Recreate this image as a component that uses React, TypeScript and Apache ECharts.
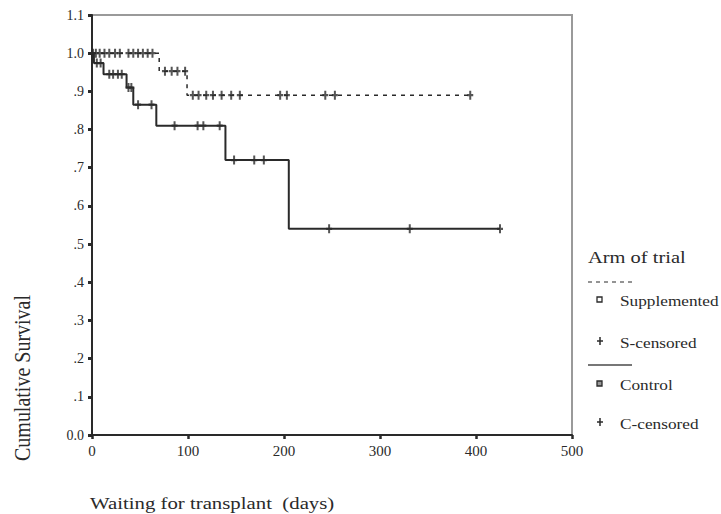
import React, { useEffect, useRef } from "react";
import * as echarts from "echarts";

// Kaplan-Meier step data (days, cumulative survival)
const suppTimes = [0, 70, 99, 394];
const suppSurv = [1.0, 0.953, 0.89, 0.89];
const ctrlTimes = [0, 2, 12, 36, 43, 67, 139, 205, 425];
const ctrlSurv = [1.0, 0.974, 0.945, 0.91, 0.865, 0.81, 0.72, 0.54, 0.54];

// Censored observations
const suppCensTimes = [1, 4, 8, 13, 18, 24, 29, 38, 43, 48, 53, 58, 63, 76, 83, 89, 97, 105, 111, 119, 126, 135, 145, 154, 196, 203, 243, 253, 394];
const suppCensSurv = [1, 1, 1, 1, 1, 1, 1, 1, 1, 1, 1, 1, 1, 0.953, 0.953, 0.953, 0.953, 0.89, 0.89, 0.89, 0.89, 0.89, 0.89, 0.89, 0.89, 0.89, 0.89, 0.89, 0.89];
const ctrlCensTimes = [5, 9, 18, 22, 27, 31, 38, 41, 48, 62, 86, 110, 116, 133, 148, 169, 179, 247, 331, 425];
const ctrlCensSurv = [0.974, 0.974, 0.945, 0.945, 0.945, 0.945, 0.91, 0.91, 0.865, 0.865, 0.81, 0.81, 0.81, 0.81, 0.72, 0.72, 0.72, 0.54, 0.54, 0.54];

const yTickLabels = ["0.0", ".1", ".2", ".3", ".4", ".5", ".6", ".7", ".8", ".9", "1.0", "1.1"];
const xTickLabels = ["0", "100", "200", "300", "400", "500"];

const FONT = "'Liberation Serif', 'DejaVu Serif', serif";
const INK = "#2a2a2a";
const PLUS = "path://M2,0h2v3h2v2h-2v3h-2v-3h-2v-2h2z";

const zip = (a: number[], b: number[]) => a.map((v, i) => [v, b[i]]);

export default function App() {
  const ref = useRef<HTMLDivElement>(null);
  useEffect(() => {
    if (!ref.current) return;
    const chart = echarts.init(ref.current, undefined, { renderer: "svg" });
    const legendText = (text: string, y: number, size = 15, sx = 1.15) => ({
      type: "text",
      x: 620,
      y,
      scaleX: sx,
      style: { text, fontFamily: FONT, fontSize: size, fill: INK, textVerticalAlign: "middle" },
    });
    const plus = (cx: number, cy: number) => ({
      type: "group",
      children: [
        { type: "line", shape: { x1: cx - 3, y1: cy, x2: cx + 3, y2: cy }, style: { stroke: INK, lineWidth: 1.5 } },
        { type: "line", shape: { x1: cx, y1: cy - 4, x2: cx, y2: cy + 4 }, style: { stroke: INK, lineWidth: 1.5 } },
      ],
    });
    chart.setOption({
      animation: false,
      backgroundColor: "#ffffff",
      grid: { left: 92, right: 149, top: 15, bottom: 79, show: true, borderColor: "#9a9a9a", borderWidth: 2 },
      xAxis: {
        type: "value",
        min: 0,
        max: 500,
        interval: 100,
        axisLine: { show: true, lineStyle: { color: INK, width: 2 } },
        axisTick: { show: true, length: 4, lineStyle: { color: INK, width: 2.5 } },
        axisLabel: {
          fontFamily: FONT,
          fontSize: 15,
          color: INK,
          margin: 8,
          formatter: (v: number) => xTickLabels[Math.round(v / 100)] ?? "",
        },
        splitLine: { show: false },
      },
      yAxis: {
        type: "value",
        min: 0,
        max: 1.1,
        interval: 0.1,
        axisLine: { show: true, lineStyle: { color: INK, width: 2 } },
        axisTick: { show: true, length: 4, lineStyle: { color: INK, width: 3 } },
        axisLabel: {
          fontFamily: FONT,
          fontSize: 14,
          color: INK,
          margin: 8,
          formatter: (v: number) => yTickLabels[Math.round(v * 10)] ?? "",
        },
        splitLine: { show: false },
      },
      series: [
        {
          name: "Supplemented",
          type: "line",
          step: "end",
          data: zip(suppTimes, suppSurv),
          showSymbol: false,
          lineStyle: { color: INK, width: 1.5, type: [4, 5] },
        },
        {
          name: "Control",
          type: "line",
          step: "end",
          data: zip(ctrlTimes, ctrlSurv),
          showSymbol: false,
          lineStyle: { color: INK, width: 2 },
        },
        {
          name: "S-censored",
          type: "scatter",
          data: zip(suppCensTimes, suppCensSurv),
          symbol: PLUS,
          symbolSize: [6, 9],
          itemStyle: { color: INK },
        },
        {
          name: "C-censored",
          type: "scatter",
          data: zip(ctrlCensTimes, ctrlCensSurv),
          symbol: PLUS,
          symbolSize: [6, 9],
          itemStyle: { color: INK },
        },
      ],
      graphic: [
        {
          type: "text",
          x: 22,
          y: 378,
          rotation: Math.PI / 2,
          scaleY: 1.2,
          style: { text: "Cumulative Survival", fontFamily: FONT, fontSize: 20, fill: INK, textAlign: "center", textVerticalAlign: "middle" },
        },
        {
          type: "text",
          x: 90,
          y: 503,
          scaleX: 1.3,
          style: { text: "Waiting for transplant  (days)", fontFamily: FONT, fontSize: 16, fill: INK, textVerticalAlign: "middle" },
        },
        {
          type: "text",
          x: 588,
          y: 258,
          scaleX: 1.28,
          style: { text: "Arm of trial", fontFamily: FONT, fontSize: 16, fill: INK, textVerticalAlign: "middle" },
        },
        { type: "line", shape: { x1: 588, y1: 282, x2: 632, y2: 282 }, style: { stroke: INK, lineWidth: 1.2, lineDash: [4, 4] } },
        { type: "rect", shape: { x: 597, y: 297, width: 5, height: 5 }, style: { stroke: INK, fill: "#fff", lineWidth: 1.3 } },
        legendText("Supplemented", 301),
        plus(600, 341),
        legendText("S-censored", 343),
        { type: "line", shape: { x1: 588, y1: 365, x2: 632, y2: 365 }, style: { stroke: "#777", lineWidth: 2 } },
        { type: "rect", shape: { x: 597, y: 381, width: 5, height: 5 }, style: { stroke: INK, fill: "#999", lineWidth: 1.3 } },
        legendText("Control", 385),
        plus(600, 422),
        legendText("C-censored", 424),
      ],
    });
    return () => chart.dispose();
  }, []);
  return <div ref={ref} style={{ position: "absolute", left: 0, top: 0, width: 721, height: 514 }} />;
}
